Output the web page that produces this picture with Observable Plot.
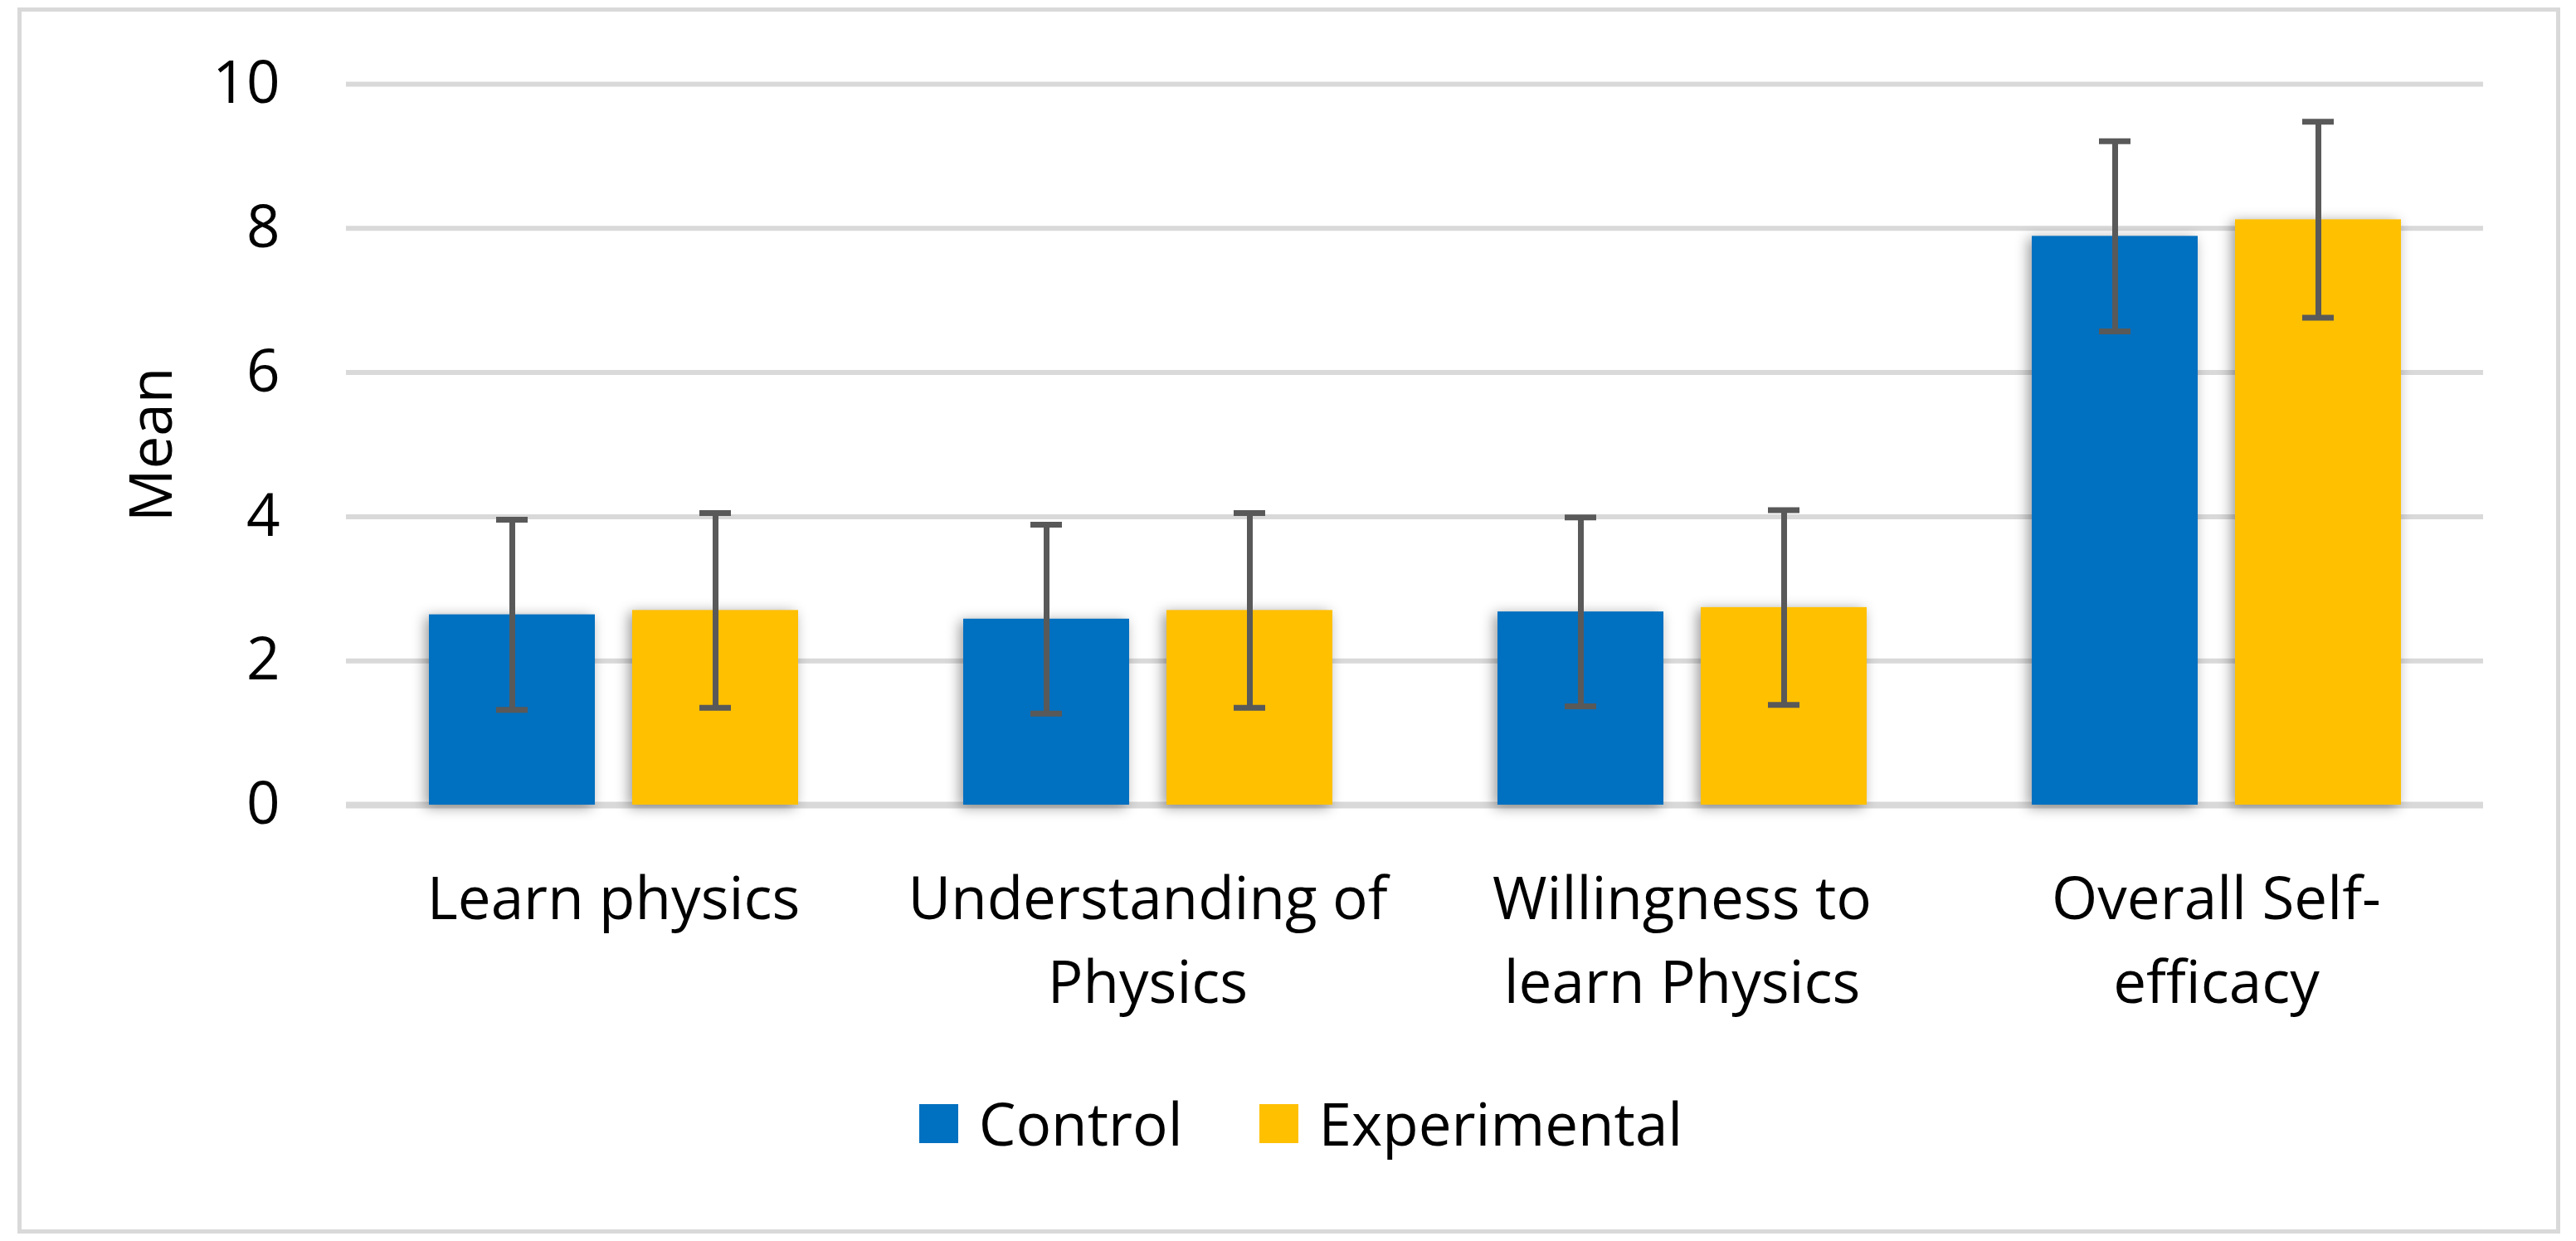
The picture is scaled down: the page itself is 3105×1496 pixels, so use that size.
<!DOCTYPE html>
<html>
<head>
<meta charset="utf-8">
<script src="https://cdn.jsdelivr.net/npm/d3@7"></script>
<script src="https://cdn.jsdelivr.net/npm/@observablehq/plot@0.6"></script>
<style>
  html, body { margin: 0; padding: 0; background: #fff; }
  #wrap { position: relative; width: 3105px; height: 1496px; overflow: hidden; }
  #frame { position: absolute; left: 21px; top: 9px; width: 3065px; height: 1478px; box-sizing: border-box; border: 5px solid #d9d9d9; }
  #chart { position: absolute; left: 0; top: 0; }
  #legend { position: absolute; left: 0; top: 1311px; width: 3136px; display: flex; justify-content: center; }
  #legend [class*="-swatch"] > svg { margin-right: 25px !important; }
  #legend [class*="-swatch"] { margin-right: 92px !important; }
  #legend [class*="-swatch"]:last-child { margin-right: 0 !important; }
</style>
</head>
<body>
<div id="wrap">
  <div id="frame"></div>
  <div id="chart"></div>
  <div id="legend"></div>
</div>
<script>
const categories = ["Learn physics", "Understanding of Physics", "Willingness to learn Physics", "Overall Self-efficacy"];
const categoryLabels = ["Learn physics", "Understanding of\nPhysics", "Willingness to\nlearn Physics", "Overall Self-\nefficacy"];
const groups = ["Control", "Experimental"];
const groupColors = ["#0070C0", "#FFC000"];
const controlMean = [2.64, 2.58, 2.68, 7.89];
const controlSD = [1.32, 1.31, 1.31, 1.32];
const experimentalMean = [2.70, 2.70, 2.74, 8.12];
const experimentalSD = [1.35, 1.35, 1.35, 1.36];
const yTicks = [0, 2, 4, 6, 8, 10];

const FONT = "'Open Sans', Lato, sans-serif";
const FS = 71;

const data = categories.flatMap((c, i) => [
  {cat: c, group: groups[0], mean: controlMean[i], sd: controlSD[i]},
  {cat: c, group: groups[1], mean: experimentalMean[i], sd: experimentalSD[i]}
]);

const plot = Plot.plot({
  width: 3105,
  height: 1260,
  marginTop: 101,
  marginBottom: 290,
  marginLeft: 417,
  marginRight: 112,
  style: {fontFamily: FONT, fontSize: FS + "px", color: "#000", background: "transparent", overflow: "visible"},
  fx: {domain: categories, padding: 0, label: null},
  x: {domain: groups, paddingInner: 0.1837, paddingOuter: 0.406, axis: null},
  y: {domain: [0, 10]},
  color: {domain: groups, range: groupColors},
  marks: [
    Plot.ruleY(yTicks.filter(d => d > 0), {stroke: "#d9d9d9", strokeWidth: 6}),
    Plot.ruleY([0], {stroke: "#d9d9d9", strokeWidth: 8}),
    Plot.barY(data, {fx: "cat", x: "group", y: "mean", fill: "group"}),
    Plot.ruleX(data, {fx: "cat", x: "group", y1: d => d.mean - d.sd, y2: d => d.mean + d.sd, stroke: "#595959", strokeWidth: 7}),
    Plot.tickY(data, {fx: "cat", x: "group", y: d => d.mean - d.sd, stroke: "#595959", strokeWidth: 7, insetLeft: 81, insetRight: 81}),
    Plot.tickY(data, {fx: "cat", x: "group", y: d => d.mean + d.sd, stroke: "#595959", strokeWidth: 7, insetLeft: 81, insetRight: 81}),
    Plot.axisY({ticks: yTicks, tickSize: 0, tickPadding: 80, fontSize: FS, label: "Mean", labelAnchor: "center", labelArrow: "none", labelOffset: 261}),
    Plot.axisFx({anchor: "bottom", tickSize: 0, tickPadding: 66, fontSize: FS, lineHeight: 101 / FS, label: null,
      tickFormat: d => categoryLabels[categories.indexOf(d)]})
  ]
});
document.getElementById("chart").appendChild(plot);
plot.querySelectorAll('g[aria-label="bar"]').forEach(g => {
  g.style.filter = "drop-shadow(-4px 3px 8px rgba(0,0,0,0.4))";
});

const leg = plot.legend("color", {swatchSize: 47, style: {fontFamily: FONT, fontSize: FS + "px", color: "#000", lineHeight: "86px", margin: 0}});
document.getElementById("legend").appendChild(leg);
</script>
</body>
</html>
